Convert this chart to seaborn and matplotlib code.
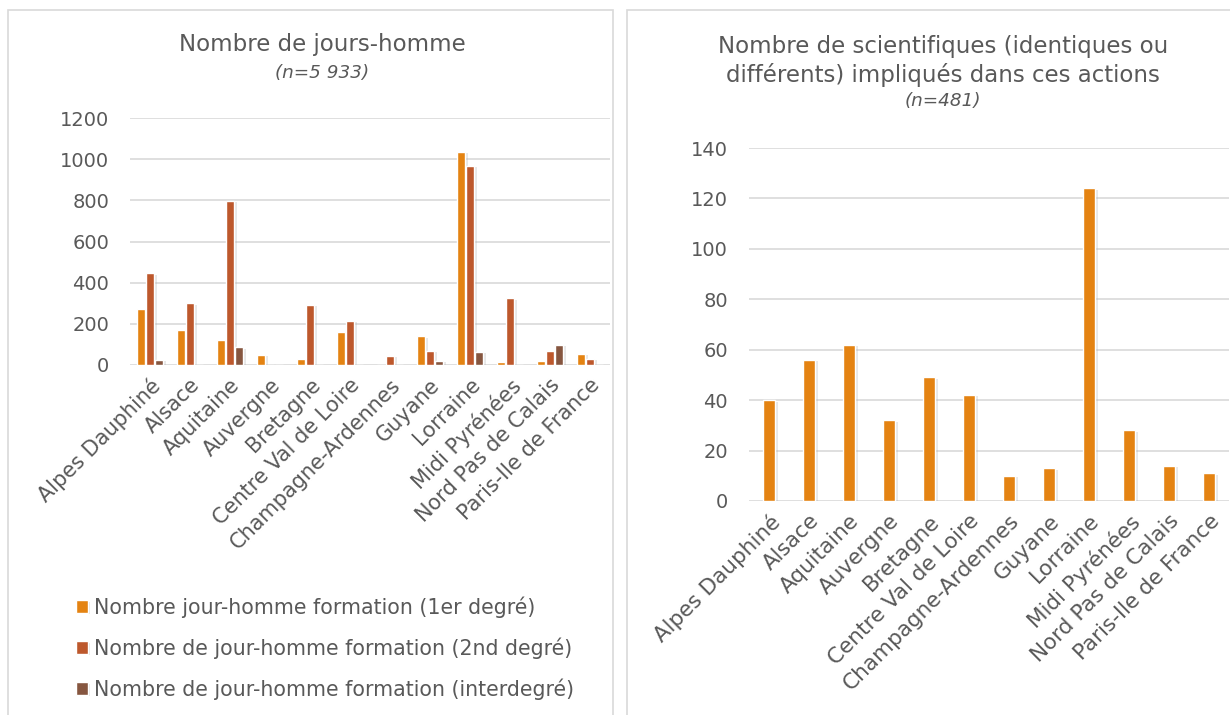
import pandas as pd
import matplotlib.pyplot as plt
import matplotlib.patheffects as pe
from matplotlib.patches import Rectangle
import seaborn as sns

regions = ["Alpes Dauphiné", "Alsace", "Aquitaine", "Auvergne", "Bretagne",
           "Centre Val de Loire", "Champagne-Ardennes", "Guyane", "Lorraine",
           "Midi Pyrénées", "Nord Pas de Calais", "Paris-Ile de France"]

jours_1er = [271, 170, 122, 49, 28, 159, 0, 139, 1035, 15, 19, 54]
jours_2nd = [446, 300, 798, 0, 292, 214, 44, 70, 968, 324, 70, 31]
jours_inter = [24, 0, 86, 0, 0, 0, 0, 21, 63, 0, 97, 0]

scientifiques = [40, 56, 62, 32, 49, 42, 10, 13, 124, 28, 14, 11]

series_names = ["Nombre jour-homme formation (1er degré)",
                "Nombre de jour-homme formation (2nd degré)",
                "Nombre de jour-homme formation (interdegré)"]
colors = ["#E48312", "#BD582C", "#865640"]

sns.set_style("white")
plt.rcParams["font.family"] = ["DejaVu Sans"]
text_col = "#595959"
grid_col = "#D9D9D9"

df_left = pd.DataFrame({
    "region": regions * 3,
    "valeur": jours_1er + jours_2nd + jours_inter,
    "serie": [series_names[0]] * 12 + [series_names[1]] * 12 + [series_names[2]] * 12,
})
df_right = pd.DataFrame({"region": regions, "valeur": scientifiques})

W, H = 1230, 715
fig = plt.figure(figsize=(12.3, 7.15), dpi=100)

# panel frames
fig.patches.append(Rectangle((8 / W, -0.01), 605 / W, 1 - 10 / H + 0.01,
                             transform=fig.transFigure, fill=False,
                             edgecolor=grid_col, linewidth=1.2))
fig.patches.append(Rectangle((627 / W, -0.01), 610 / W, 1 - 10 / H + 0.01,
                             transform=fig.transFigure, fill=False,
                             edgecolor=grid_col, linewidth=1.2))


def box(x0, y0, x1, y1):
    return [x0 / W, 1 - y1 / H, (x1 - x0) / W, (y1 - y0) / H]


shadow = [pe.SimplePatchShadow(offset=(2, -1), shadow_rgbFace="#b0b0b0", alpha=0.3),
          pe.Normal()]


def style_axis(ax, ymax, step, xsize):
    ax.set_xlim(-0.5, 11.5)
    ax.set_ylim(0, ymax)
    ax.set_yticks(range(0, ymax + 1, step))
    ax.yaxis.grid(True, color=grid_col, linewidth=1.2)
    ax.set_axisbelow(True)
    for s in ax.spines.values():
        s.set_visible(False)
    ax.tick_params(axis="both", length=0, colors=text_col)
    ax.tick_params(axis="y", pad=15, labelsize=14)
    ax.tick_params(axis="x", pad=7, labelsize=xsize)
    ax.set_xlabel("")
    ax.set_ylabel("")
    plt.setp(ax.get_xticklabels(), rotation=45, ha="right", va="top",
             rotation_mode="anchor")
    for p in ax.patches:
        p.set_path_effects(shadow)


# left chart
ax1 = fig.add_axes(box(130, 118, 610, 365))
sns.barplot(data=df_left, x="region", y="valeur", hue="serie", palette=colors,
            saturation=1, width=0.66, gap=0.08, ax=ax1, legend=True)
style_axis(ax1, 1200, 200, 15)
handles, labels = ax1.get_legend_handles_labels()
ax1.get_legend().remove()
fig.legend(handles, labels, loc="upper left", bbox_to_anchor=(66 / W, 1 - 586 / H),
           frameon=False, fontsize=14.8, labelcolor=text_col, handlelength=0.55,
           handleheight=0.55, handletextpad=0.3, labelspacing=0.95, borderpad=0)
fig.text(322 / W, 1 - 45 / H, "Nombre de jours-homme", ha="center", va="center",
         fontsize=16.5, color=text_col)
fig.text(322 / W, 1 - 73 / H, "(n=5 933)", ha="center", va="center",
         fontsize=13.2, style="italic", color=text_col)

# right chart
ax2 = fig.add_axes(box(749, 148, 1229, 501))
sns.barplot(data=df_right, x="region", y="valeur", color=colors[0], width=0.31,
            saturation=1, ax=ax2)
style_axis(ax2, 140, 20, 15.5)
fig.text(943 / W, 1 - 47 / H, "Nombre de scientifiques (identiques ou",
         ha="center", va="center", fontsize=16.5, color=text_col)
fig.text(943 / W, 1 - 75 / H, "différents) impliqués dans ces actions",
         ha="center", va="center", fontsize=16.5, color=text_col)
fig.text(943 / W, 1 - 101 / H, "(n=481)", ha="center", va="center",
         fontsize=13.2, style="italic", color=text_col)

fig.savefig("out.png", dpi=100)
